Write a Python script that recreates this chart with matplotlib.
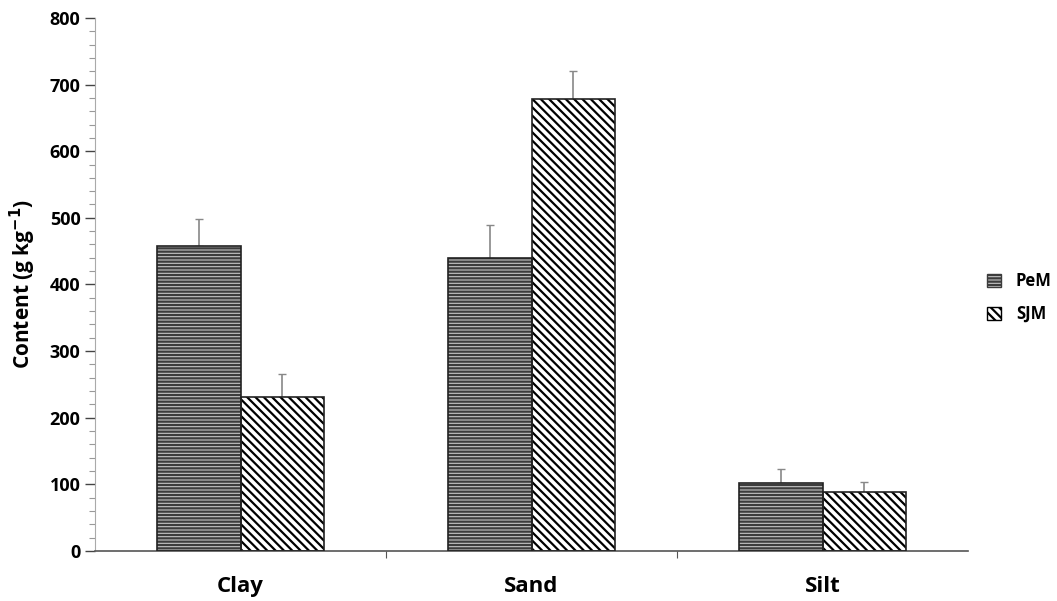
import numpy as np
import matplotlib.pyplot as plt
from matplotlib.ticker import MultipleLocator
from matplotlib.patches import Patch

plt.rcParams['font.family'] = ['Open Sans', 'DejaVu Sans']
plt.rcParams['font.weight'] = 'bold'
plt.rcParams['hatch.linewidth'] = 1.6

categories = ['Clay', 'Sand', 'Silt']
pem = [458, 440, 102]
pem_err = [40, 49, 21]
sjm = [231, 679, 89]
sjm_err = [35, 42, 15]

x = np.arange(len(categories))
w = 0.286

fig = plt.figure(figsize=(10.57, 6.01), dpi=100)
ax = fig.add_axes([0.0899, 0.0832, 0.826, 0.887])

# PeM: grey horizontal stripes
plt.rcParams['hatch.color'] = '#3c3c3c'
ax.bar(x - w / 2, pem, w, color='#c4c4c4', hatch='-----', linewidth=0, zorder=2)
ax.bar(x - w / 2, pem, w, fill=False, edgecolor='#222222', linewidth=1.2, zorder=3)
ax.errorbar(x - w / 2, pem, yerr=[np.zeros(3), pem_err], fmt='none',
            ecolor='#888888', elinewidth=1.2, capsize=3, zorder=1)

# SJM: diagonal black/white hatch
plt.rcParams['hatch.color'] = 'black'
ax.bar(x + w / 2, sjm, w, color='white', hatch='\\\\\\\\', linewidth=0, zorder=2)
ax.bar(x + w / 2, sjm, w, fill=False, edgecolor='#222222', linewidth=1.2, zorder=3)
ax.errorbar(x + w / 2, sjm, yerr=[np.zeros(3), sjm_err], fmt='none',
            ecolor='#888888', elinewidth=1.2, capsize=3, zorder=1)

ax.set_xlim(-0.5, 2.5)
ax.set_ylim(0, 800)
ax.yaxis.set_major_locator(MultipleLocator(100))
ax.yaxis.set_minor_locator(MultipleLocator(20))
ax.set_xticks([0.5, 1.5])
ax.set_xticklabels([])
ax.tick_params(axis='x', direction='out', length=5, color='#555555')
for xi, lab in zip(x, categories):
    ax.text(xi, -38, lab, ha='center', va='top', fontsize=16, fontweight='bold',
            transform=ax.transData)
ax.tick_params(axis='y', which='major', direction='out', length=7, width=1,
               color='#444444', labelsize=13)
ax.tick_params(axis='y', which='minor', direction='out', length=4, width=0.8,
               color='#999999')
ax.spines['top'].set_visible(False)
ax.spines['right'].set_visible(False)
ax.spines['left'].set_color('#aaaaaa')
ax.spines['bottom'].set_color('#555555')
ax.spines['bottom'].set_linewidth(1.2)
ax.set_ylabel('Content (g kg$^{\\mathbf{-1}}$)', fontsize=15, fontweight='bold', labelpad=8)

plt.rcParams['hatch.color'] = '#3c3c3c'
handles = [
    Patch(facecolor='#c4c4c4', edgecolor='#3c3c3c', hatch='-----', label='PeM'),
    Patch(facecolor='white', edgecolor='black', hatch='\\\\\\\\', label='SJM'),
]
fig.legend(handles=handles, loc='center left', bbox_to_anchor=(0.92, 0.505),
           frameon=False, fontsize=12, handlelength=0.8, handleheight=0.8,
           handletextpad=0.9, labelspacing=0.9)

fig.savefig('out.png', dpi=100)
